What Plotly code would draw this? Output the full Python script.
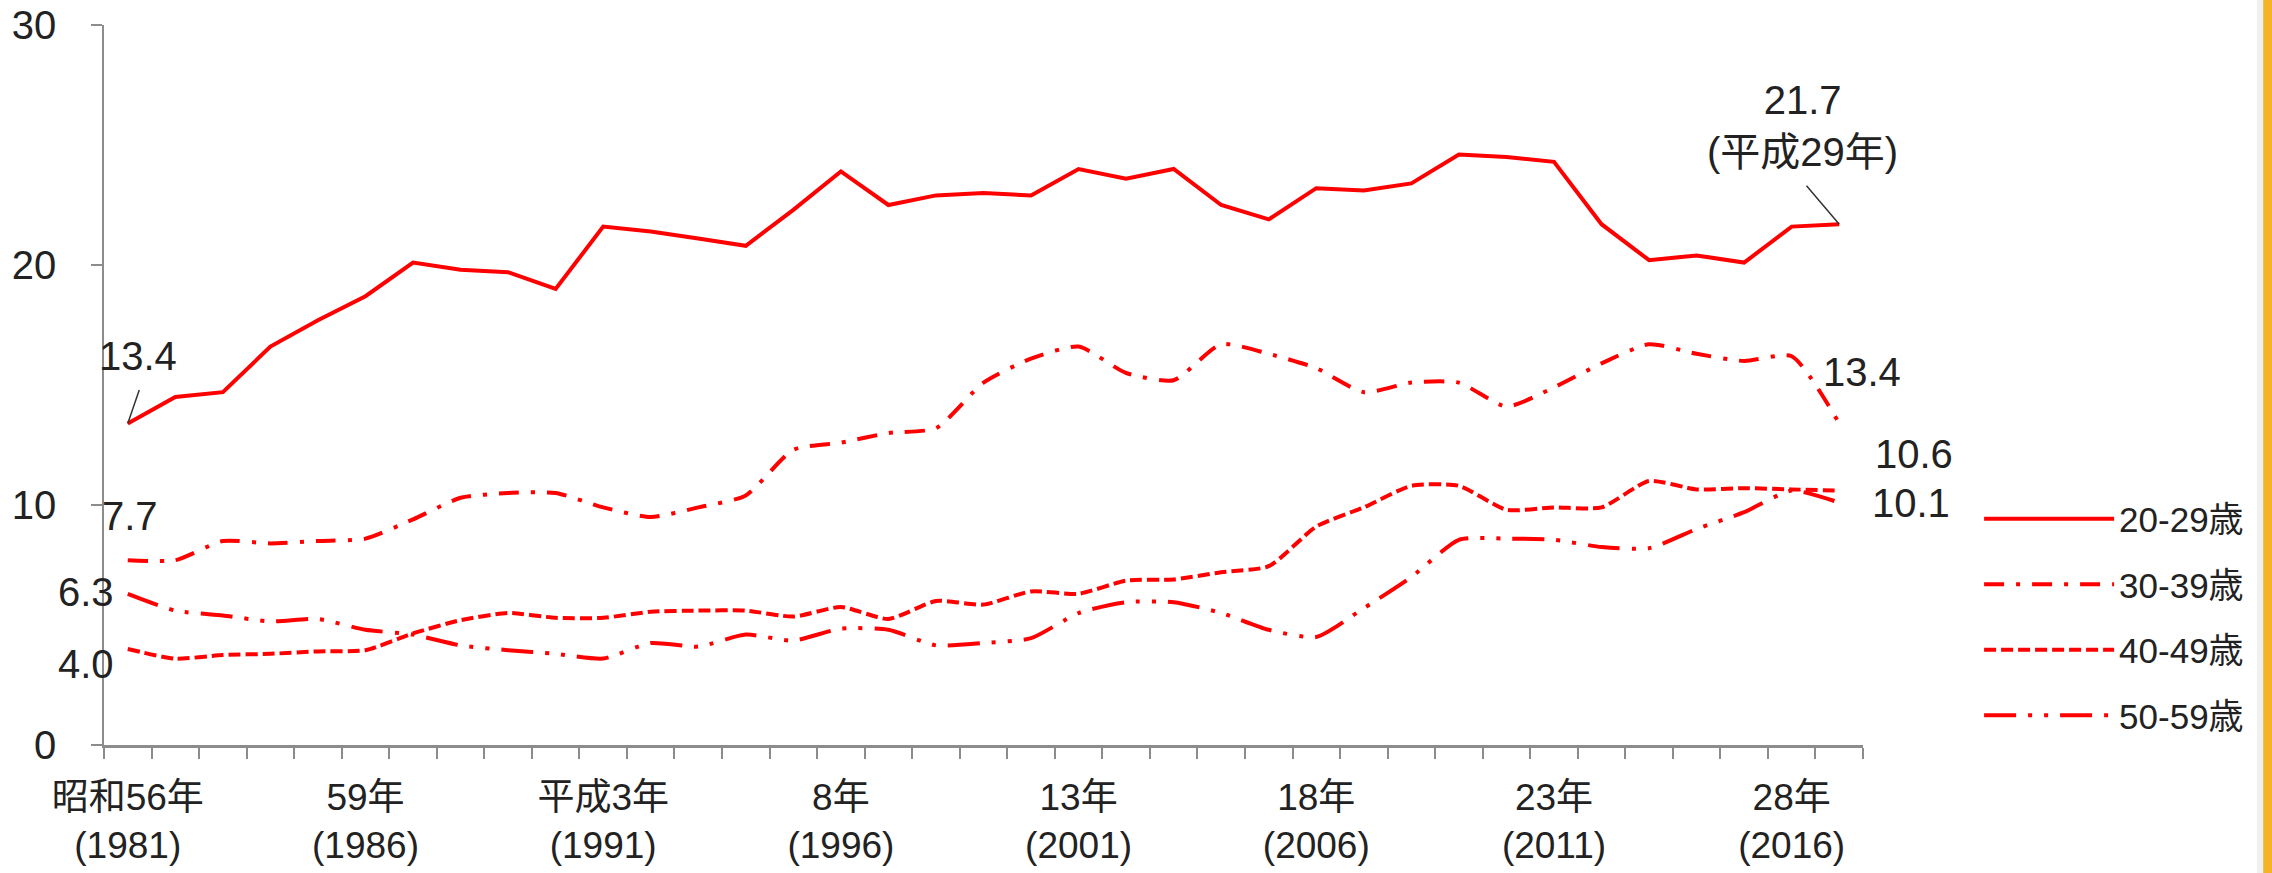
import plotly.graph_objects as go

# ---- data ----
years = list(range(1981, 2018))
age_20_29 = [13.4, 14.5, 14.7, 16.6, 17.7, 18.7, 20.1, 19.8, 19.7, 19.0,
             21.6, 21.4, 21.1, 20.8, 22.3, 23.9, 22.5, 22.9, 23.0, 22.9,
             24.0, 23.6, 24.0, 22.5, 21.9, 23.2, 23.1, 23.4, 24.6, 24.5,
             24.3, 21.7, 20.2, 20.4, 20.1, 21.6, 21.7]
age_30_39 = [7.7, 7.7, 8.5, 8.4, 8.5, 8.6, 9.4, 10.3, 10.5, 10.5,
             9.9, 9.5, 9.9, 10.4, 12.3, 12.6, 13.0, 13.2, 15.1, 16.1,
             16.6, 15.5, 15.2, 16.7, 16.3, 15.7, 14.7, 15.1, 15.1, 14.1,
             14.9, 15.9, 16.7, 16.3, 16.0, 16.2, 13.4]
age_40_49 = [4.0, 3.6, 3.75, 3.8, 3.9, 3.95, 4.65, 5.2, 5.5, 5.3,
             5.3, 5.55, 5.6, 5.6, 5.35, 5.75, 5.25, 6.0, 5.85, 6.4,
             6.3, 6.85, 6.9, 7.2, 7.45, 9.1, 9.9, 10.8, 10.8, 9.8,
             9.9, 9.9, 11.0, 10.65, 10.7, 10.65, 10.6]
age_50_59 = [6.3, 5.6, 5.4, 5.15, 5.25, 4.8, 4.6, 4.15, 3.95, 3.8,
             3.6, 4.25, 4.1, 4.6, 4.35, 4.85, 4.8, 4.15, 4.25, 4.45,
             5.5, 5.95, 5.95, 5.5, 4.8, 4.5, 5.7, 7.0, 8.55, 8.6,
             8.55, 8.25, 8.2, 9.0, 9.7, 10.6, 10.1]

series_names = ["20-29歳", "30-39歳", "40-49歳", "50-59歳"]
tick_years = [1981, 1986, 1991, 1996, 2001, 2006, 2011, 2016]
tick_labels = ["昭和56年<br>(1981)", "59年<br>(1986)", "平成3年<br>(1991)",
               "8年<br>(1996)", "13年<br>(2001)", "18年<br>(2006)",
               "23年<br>(2011)", "28年<br>(2016)"]
y_ticks = [0, 10, 20, 30]

FONT = "Liberation Sans, Arial, Noto Sans CJK JP"
RED = "#FF0000"
GREY = "#8C8C8C"
TXT = "#222222"

dashes = ["solid", "20px,12px,4px,12px", "12px,5px", "32px,12px,4px,12px,4px,12px"]
all_series = [age_20_29, age_30_39, age_40_49, age_50_59]

fig = go.Figure()
for i, (name, vals, dash) in enumerate(zip(series_names, all_series, dashes)):
    fig.add_trace(go.Scatter(
        x=years, y=vals, name=name, mode="lines", legendgroup=name,
        line=dict(color=RED, width=4, dash=dash,
                  shape="linear" if i == 0 else "spline",
                  smoothing=0.0 if i == 0 else 0.6),
        hoverinfo="skip"))

ann_font = dict(family=FONT, size=40, color=TXT)
anns = []
# value labels (text only)
label_specs = [
    (years[0], age_20_29[0], "13.4", 10, 67),
    (years[-1], age_20_29[-1], "21.7<br>(平成29年)", -37, 98),
    (years[-1], age_30_39[-1], "13.4", 23, 51),
    (years[-1], age_40_49[-1], "10.6", 75, 37),
    (years[-1], age_50_59[-1], "10.1", 72, 0),
    (years[0], age_30_39[0], "7.7", 2, 44),
    (years[0], age_50_59[0], "6.3", -42, 2),
    (years[0], age_40_49[0], "4.0", -42, -15),
]
for x, y, t, xs, ys in label_specs:
    anns.append(dict(x=x, y=y, xref="x", yref="y", text=t, showarrow=False,
                     xshift=xs, yshift=ys, font=ann_font, xanchor="center",
                     yanchor="middle"))
# leader lines
for x, y, axp, ayp in [(years[0], age_20_29[0], 12, -35),
                       (years[-1], age_20_29[-1], -34, -40)]:
    anns.append(dict(x=x, y=y, xref="x", yref="y", text="", showarrow=True,
                     ax=axp, ay=ayp, arrowhead=0, arrowwidth=1.5,
                     arrowcolor="#333333"))

fig.update_layout(
    width=2272, height=873,
    margin=dict(l=104, r=409, t=25, b=128, pad=0),
    paper_bgcolor="white", plot_bgcolor="white",
    font=dict(family=FONT, size=40, color=TXT),
    showlegend=True,
    legend=dict(x=1.066, y=0.355, xanchor="left", yanchor="top",
                font=dict(family=FONT, size=35, color=TXT),
                itemwidth=130, traceorder="grouped", tracegroupgap=17,
                bgcolor="rgba(0,0,0,0)"),
    annotations=anns,
    shapes=[
        dict(type="rect", xref="paper", yref="paper", x0=1.224, x1=1.2275,
             y0=-0.3, y1=1.2, fillcolor="#F0F0F0", line=dict(width=0),
             layer="below"),
        dict(type="rect", xref="paper", yref="paper", x0=1.2275, x1=1.3,
             y0=-0.3, y1=1.2, fillcolor="#F6B325", line=dict(width=0),
             layer="below"),
    ],
)

fig.update_xaxes(
    range=[1980.5, 2017.5], tickvals=tick_years, ticktext=tick_labels,
    ticks="", showgrid=False, zeroline=False, automargin=False,
    showline=True, linecolor=GREY, linewidth=2.5,
    tickfont=dict(family=FONT, size=37, color=TXT),
    ticklabelstandoff=18,
    minor=dict(ticks="outside", ticklen=11, tickwidth=1.5, tickcolor=GREY,
               tick0=1980.5, dtick=1, showgrid=False),
)
fig.update_yaxes(
    range=[0, 30], tickvals=y_ticks, ticks="outside", ticklen=11,
    tickwidth=1.5, tickcolor=GREY, showgrid=False, zeroline=False,
    automargin=False,
    showline=True, linecolor=GREY, linewidth=1.5,
    tickfont=dict(family=FONT, size=40, color=TXT),
    ticklabelstandoff=27,
)

fig.write_html("out.html", config={"displayModeBar": False},
               post_script="document.body.style.margin='0';document.body.style.overflow='hidden';")
